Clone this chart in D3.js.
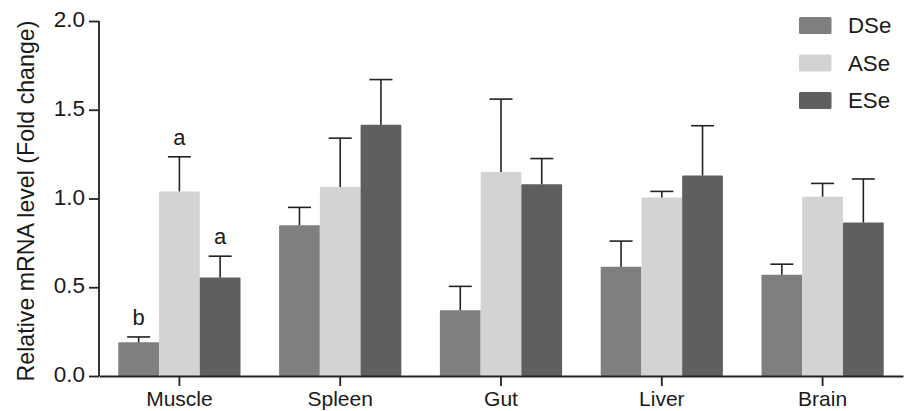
<!DOCTYPE html>
<html><head><meta charset="utf-8">
<script src="https://cdn.jsdelivr.net/npm/d3@7/dist/d3.min.js"></script>
<style>body{margin:0;background:#fff}svg{display:block}text{font-family:"Liberation Sans",Arial,sans-serif;fill:#1a1a1a}</style>
</head><body><svg id="c" width="909" height="411"></svg>
<script>
const categories = ["Muscle","Spleen","Gut","Liver","Brain"];
const series = ["DSe","ASe","ESe"];
const colors = ["#7f7f7f","#d3d3d3","#5f5f5f"];
const meanDSe = [0.19,0.85,0.37,0.615,0.57];
const meanASe = [1.04,1.065,1.15,1.005,1.01];
const meanESe = [0.555,1.415,1.08,1.13,0.865];
const errDSe = [0.03,0.10,0.135,0.145,0.06];
const errASe = [0.195,0.275,0.41,0.035,0.075];
const errESe = [0.12,0.255,0.145,0.28,0.245];
const letters = [["b","a","a"],["","",""],["","",""],["","",""],["","",""]];
const yTicks = [0,0.5,1.0,1.5,2.0];

const means=[meanDSe,meanASe,meanESe], errs=[errDSe,errASe,errESe];
const svg=d3.select("#c");
const m={l:99,r:6,t:21,b:35};
const W=909,H=411;
const x0=d3.scaleBand().domain(categories).range([m.l,W-m.r]).paddingInner(0.24).paddingOuter(0.12);
const x1=d3.scaleBand().domain(series).range([0,x0.bandwidth()]);
const y=d3.scaleLinear().domain([0,2]).range([H-m.b,m.t]);

const data=[];
categories.forEach((c,i)=>series.forEach((s,j)=>data.push({c,s,j,v:means[j][i],e:errs[j][i],lab:letters[i][j]})));

const g=svg.append("g");
g.selectAll("rect.bar").data(data).join("rect").attr("class","bar")
 .attr("x",d=>x0(d.c)+x1(d.s)).attr("width",x1.bandwidth())
 .attr("y",d=>y(d.v)).attr("height",d=>y(0)-y(d.v))
 .attr("fill",d=>colors[d.j]).attr("rx",1);
// error bars
const cx=d=>x0(d.c)+x1(d.s)+x1.bandwidth()/2;
g.selectAll("line.err").data(data).join("line").attr("class","err")
 .attr("x1",cx).attr("x2",cx).attr("y1",d=>y(d.v)).attr("y2",d=>y(d.v+d.e))
 .attr("stroke","#222").attr("stroke-width",1.6);
g.selectAll("line.cap").data(data).join("line").attr("class","cap")
 .attr("x1",d=>cx(d)-11.5).attr("x2",d=>cx(d)+11.5).attr("y1",d=>y(d.v+d.e)).attr("y2",d=>y(d.v+d.e))
 .attr("stroke","#222").attr("stroke-width",1.6);
g.selectAll("text.sig").data(data.filter(d=>d.lab)).join("text").attr("class","sig")
 .attr("x",cx).attr("y",d=>y(d.v+d.e)-12).attr("text-anchor","middle")
 .attr("font-size",22).text(d=>d.lab);

// axes
const ya=svg.append("g").attr("transform",`translate(${m.l},0)`)
 .call(d3.axisLeft(y).tickValues(yTicks).tickFormat(d3.format(".1f")).tickSize(10).tickPadding(4));
const xa=svg.append("g").attr("transform",`translate(0,${y(0)})`)
 .call(d3.axisBottom(x0).tickSize(10).tickPadding(5).tickSizeOuter(0));
[ya,xa].forEach(a=>{a.selectAll("path,line").attr("stroke","#222").attr("stroke-width",1.8);
 a.selectAll("text").attr("fill","#1a1a1a").style("font-family","'Liberation Sans',Arial,sans-serif");});
ya.selectAll("text").attr("font-size",22.5).attr("dy","0.25em");
xa.selectAll("text").attr("font-size",21).attr("textLength",null);
ya.select("path.domain").attr("d",`M-0,${y(2)}V${y(0)}`);

svg.append("text").attr("transform",`translate(34,201) rotate(-90)`)
 .attr("text-anchor","middle").attr("font-size",23.2).text("Relative mRNA level (Fold change)");

// legend
const lg=svg.append("g").attr("transform","translate(799,17)");
series.forEach((s,j)=>{
 const r=lg.append("g").attr("transform",`translate(0,${j*37.5})`);
 r.append("rect").attr("width",32.5).attr("height",17).attr("rx",1.5).attr("fill",colors[j]);
 r.append("text").attr("x",49).attr("y",16).attr("font-size",22.3).text(s);
});
</script></body></html>
